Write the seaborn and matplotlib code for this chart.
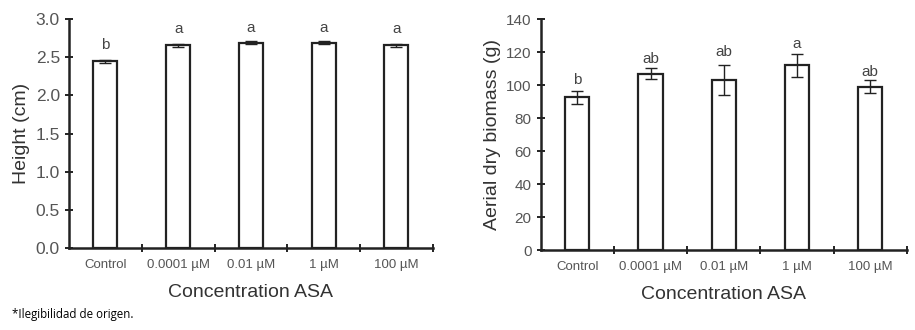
import numpy as np
import pandas as pd
import matplotlib
matplotlib.use("Agg")
import matplotlib.pyplot as plt
from matplotlib.ticker import FixedLocator
import seaborn as sns

# data
categories = ["Control", "0.0001 µM", "0.01 µM", "1 µM", "100 µM"]
height_cm = [2.45, 2.66, 2.69, 2.69, 2.66]
height_err = [0.02, 0.02, 0.02, 0.02, 0.02]
height_letters = ["b", "a", "a", "a", "a"]
height_letter_y = [2.66, 2.87, 2.88, 2.88, 2.87]

biomass_g = [92.5, 107, 103, 112, 99]
biomass_err = [4, 3.5, 9, 7, 4]
biomass_letters = ["b", "ab", "ab", "a", "ab"]
biomass_letter_y = [103, 116, 120, 125, 108]

sns.set_style("ticks")
plt.rcParams["font.family"] = ["Liberation Sans", "DejaVu Sans"]

fig = plt.figure(figsize=(9.15, 3.3), dpi=100)
ax1 = fig.add_axes([0.0754, 0.2485, 0.3976, 0.6935])
ax2 = fig.add_axes([0.591, 0.2424, 0.400, 0.6996])

edge = "#222222"
tick_col = "#555555"


def panel(ax, vals, errs, letters, letter_y, ylim, yticks, ylabel, ytick_fs, fmt):
    df = pd.DataFrame({"cat": categories, "val": vals})
    sns.barplot(data=df, x="cat", y="val", ax=ax, color="white",
                edgecolor=edge, linewidth=1.6, width=0.33, errorbar=None)
    pos = np.arange(len(categories))
    ax.errorbar(pos, vals, yerr=errs, fmt="none", ecolor=edge,
                elinewidth=1.0, capsize=4, capthick=1.0)
    for x, t, yy in zip(pos, letters, letter_y):
        ax.text(x, yy, t, ha="center", va="center", fontsize=11, color="#444444")
    ax.set_xlim(-0.5, len(categories) - 0.5)
    ax.set_ylim(*ylim)
    ax.set_yticks(yticks)
    ax.set_yticklabels([fmt.format(v) for v in yticks], fontsize=ytick_fs, color=tick_col)
    ax.xaxis.set_major_locator(FixedLocator(pos))
    ax.set_xticklabels(categories, fontsize=9.5, color=tick_col)
    ax.tick_params(axis="x", which="major", length=0, pad=8)
    ax.xaxis.set_minor_locator(FixedLocator(np.arange(0.5, len(categories), 1.0)))
    ax.tick_params(axis="x", which="minor", length=6, direction="inout", width=1.4, color=edge)
    ax.tick_params(axis="y", length=6, direction="inout", width=1.4, color=edge)
    for s in ["top", "right"]:
        ax.spines[s].set_visible(False)
    for s in ["left", "bottom"]:
        ax.spines[s].set_linewidth(1.8)
        ax.spines[s].set_color(edge)
    ax.set_xlabel("Concentration ASA", fontsize=14, color="#333333", labelpad=9)
    ax.set_ylabel(ylabel, fontsize=14, color="#333333", labelpad=4)


panel(ax1, height_cm, height_err, height_letters, height_letter_y, (0, 3.0),
      np.arange(0, 3.01, 0.5), "Height (cm)", 12.5, "{:.1f}")
panel(ax2, biomass_g, biomass_err, biomass_letters, biomass_letter_y, (0, 140),
      np.arange(0, 141, 20), "Aerial dry biomass (g)", 11, "{:.0f}")

fig.text(0.013, 0.035, "*Ilegibilidad de origen.", fontsize=8.3, color="black",
         family=["Open Sans", "DejaVu Sans"])

fig.savefig("out.png", dpi=100)
